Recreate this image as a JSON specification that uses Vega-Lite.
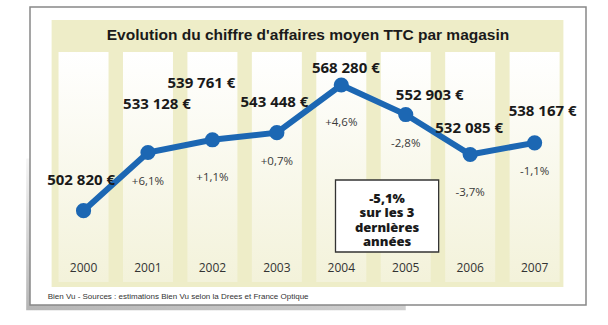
{
  "$schema": "https://vega.github.io/schema/vega-lite/v6.json",
  "width": 566,
  "height": 298,
  "autosize": "none",
  "padding": {"left": 25, "top": 7, "right": 17, "bottom": 20},
  "background": "white",
  "config": {"view": {"stroke": null}},
  "title": {
    "text": "Evolution du chiffre d'affaires moyen TTC par magasin",
    "font": "Liberation Sans",
    "fontWeight": "bold",
    "fontSize": 15.5,
    "color": "#1a1a1a",
    "anchor": "middle",
    "frame": "group",
    "offset": -49,
    "baseline": "alphabetic",
    "zindex": 1
  },
  "data": {
    "values": [
      {"year": 2000, "value": 502820, "label": "502 820 €", "pct": null},
      {"year": 2001, "value": 533128, "label": "533 128 €", "pct": "+6,1%"},
      {"year": 2002, "value": 539761, "label": "539 761 €", "pct": "+1,1%"},
      {"year": 2003, "value": 543448, "label": "543 448 €", "pct": "+0,7%"},
      {"year": 2004, "value": 568280, "label": "568 280 €", "pct": "+4,6%"},
      {"year": 2005, "value": 552903, "label": "552 903 €", "pct": "-2,8%"},
      {"year": 2006, "value": 532085, "label": "532 085 €", "pct": "-3,7%"},
      {"year": 2007, "value": 538167, "label": "538 167 €", "pct": "-1,1%"}
    ]
  },
  "layer": [
    {
      "data": {"values": [{}]},
      "mark": {"type": "rect", "fill": {"gradient": "linear", "x1": 0, "y1": 1, "x2": 0.4, "y2": 0, "stops": [{"offset": 0, "color": "#b5b5b5"}, {"offset": 1, "color": "#ffffff"}]}},
      "encoding": {
        "x": {"datum": 1999.11, "type": "quantitative", "scale": {"domain": [1999.1692, 2007.7973], "nice": false, "zero": false}, "axis": null},
        "x2": {"datum": 2005.0},
        "y": {"datum": 530000, "type": "quantitative", "scale": {"domain": [453709, 608907], "nice": false, "zero": false}, "axis": null},
        "y2": {"datum": 451000}
      }
    },
    {
      "data": {"values": [{}]},
      "mark": {"type": "rect", "fill": "white", "stroke": "#888888", "strokeWidth": 1.5},
      "encoding": {
        "x": {"datum": 1999.1692, "type": "quantitative", "axis": null},
        "x2": {"datum": 2007.7973},
        "y": {"datum": 608907, "type": "quantitative", "axis": null},
        "y2": {"datum": 453709}
      }
    },
    {
      "data": {"values": [{}]},
      "mark": {"type": "rect", "fill": "#EEEDC8"},
      "encoding": {
        "x": {"datum": 1999.5046, "type": "quantitative", "axis": null},
        "x2": {"datum": 2007.4466},
        "y": {"datum": 602136, "type": "quantitative", "axis": null},
        "y2": {"datum": 463083}
      }
    },
    {
      "mark": {"type": "bar", "width": 50, "fill": {"gradient": "linear", "x1": 0, "y1": 0, "x2": 0, "y2": 1, "stops": [{"offset": 0, "color": "#ffffff"}, {"offset": 1, "color": "#F3F2DA"}]}},
      "encoding": {
        "x": {"field": "year", "type": "quantitative", "axis": null},
        "y": {"datum": 585471, "type": "quantitative", "axis": null},
        "y2": {"datum": 465687}
      }
    },
    {
      "mark": {"type": "text", "font": "Open Sans", "fontSize": 12, "color": "#333333", "baseline": "middle", "align": "center"},
      "encoding": {
        "x": {"field": "year", "type": "quantitative", "axis": null},
        "y": {"datum": 472978, "type": "quantitative", "axis": null},
        "text": {"field": "year", "type": "quantitative", "format": "d"}
      }
    },
    {
      "data": {"values": [{}]},
      "mark": {"type": "text", "text": "Bien Vu - Sources : estimations Bien Vu selon la Drees et France Optique", "font": "Liberation Sans", "fontSize": 8, "color": "#333333", "baseline": "middle", "align": "left"},
      "encoding": {
        "x": {"datum": 1999.4436, "type": "quantitative", "axis": null},
        "y": {"datum": 457875, "type": "quantitative", "axis": null}
      }
    },
    {
      "mark": {"type": "line", "color": "#1C67B3", "strokeWidth": 6},
      "encoding": {
        "x": {"field": "year", "type": "quantitative", "axis": null},
        "y": {"field": "value", "type": "quantitative", "axis": null}
      }
    },
    {
      "mark": {"type": "circle", "color": "#1C67B3", "size": 230, "opacity": 1},
      "encoding": {
        "x": {"field": "year", "type": "quantitative", "axis": null},
        "y": {"field": "value", "type": "quantitative", "axis": null}
      }
    },
    {
      "transform": [{"filter": {"field": "year", "oneOf": [2000, 2003]}}],
      "mark": {"type": "text", "font": "Open Sans", "fontWeight": "bold", "fontSize": 15, "color": "#1a1a1a", "dx": -2.4, "dy": -31, "baseline": "middle"},
      "encoding": {
        "x": {"field": "year", "type": "quantitative", "axis": null},
        "y": {"field": "value", "type": "quantitative", "axis": null},
        "text": {"field": "label"}
      }
    },
    {
      "transform": [{"filter": {"field": "year", "equal": 2001}}],
      "mark": {"type": "text", "font": "Open Sans", "fontWeight": "bold", "fontSize": 15, "color": "#1a1a1a", "dx": 9, "dy": -48.5, "baseline": "middle"},
      "encoding": {
        "x": {"field": "year", "type": "quantitative", "axis": null},
        "y": {"field": "value", "type": "quantitative", "axis": null},
        "text": {"field": "label"}
      }
    },
    {
      "transform": [{"filter": {"field": "year", "equal": 2002}}],
      "mark": {"type": "text", "font": "Open Sans", "fontWeight": "bold", "fontSize": 15, "color": "#1a1a1a", "dx": -11, "dy": -57, "baseline": "middle"},
      "encoding": {
        "x": {"field": "year", "type": "quantitative", "axis": null},
        "y": {"field": "value", "type": "quantitative", "axis": null},
        "text": {"field": "label"}
      }
    },
    {
      "transform": [{"filter": {"field": "year", "equal": 2004}}],
      "mark": {"type": "text", "font": "Open Sans", "fontWeight": "bold", "fontSize": 15, "color": "#1a1a1a", "dx": 4.5, "dy": -17.5, "baseline": "middle"},
      "encoding": {
        "x": {"field": "year", "type": "quantitative", "axis": null},
        "y": {"field": "value", "type": "quantitative", "axis": null},
        "text": {"field": "label"}
      }
    },
    {
      "transform": [{"filter": {"field": "year", "equal": 2005}}],
      "mark": {"type": "text", "font": "Open Sans", "fontWeight": "bold", "fontSize": 15, "color": "#1a1a1a", "dx": 24, "dy": -19.5, "baseline": "middle"},
      "encoding": {
        "x": {"field": "year", "type": "quantitative", "axis": null},
        "y": {"field": "value", "type": "quantitative", "axis": null},
        "text": {"field": "label"}
      }
    },
    {
      "transform": [{"filter": {"field": "year", "equal": 2006}}],
      "mark": {"type": "text", "font": "Open Sans", "fontWeight": "bold", "fontSize": 15, "color": "#1a1a1a", "dx": -1, "dy": -26.5, "baseline": "middle"},
      "encoding": {
        "x": {"field": "year", "type": "quantitative", "axis": null},
        "y": {"field": "value", "type": "quantitative", "axis": null},
        "text": {"field": "label"}
      }
    },
    {
      "transform": [{"filter": {"field": "year", "equal": 2007}}],
      "mark": {"type": "text", "font": "Open Sans", "fontWeight": "bold", "fontSize": 15, "color": "#1a1a1a", "dx": 8, "dy": -31.5, "baseline": "middle"},
      "encoding": {
        "x": {"field": "year", "type": "quantitative", "axis": null},
        "y": {"field": "value", "type": "quantitative", "axis": null},
        "text": {"field": "label"}
      }
    },
    {
      "transform": [{"filter": {"field": "year", "oneOf": [2001, 2003, 2005, 2007]}}],
      "mark": {"type": "text", "font": "Open Sans", "fontSize": 11.5, "color": "#3a3a3a", "dy": 29, "baseline": "middle"},
      "encoding": {
        "x": {"field": "year", "type": "quantitative", "axis": null},
        "y": {"field": "value", "type": "quantitative", "axis": null},
        "text": {"field": "pct"}
      }
    },
    {
      "transform": [{"filter": {"field": "year", "oneOf": [2002, 2004, 2006]}}],
      "mark": {"type": "text", "font": "Open Sans", "fontSize": 11.5, "color": "#3a3a3a", "dy": 38, "baseline": "middle"},
      "encoding": {
        "x": {"field": "year", "type": "quantitative", "axis": null},
        "y": {"field": "value", "type": "quantitative", "axis": null},
        "text": {"field": "pct"}
      }
    },
    {
      "data": {"values": [{}]},
      "mark": {"type": "rect", "fill": "white", "stroke": "#333333", "strokeWidth": 1.3},
      "encoding": {
        "x": {"datum": 2003.910, "type": "quantitative", "axis": null},
        "x2": {"datum": 2005.511},
        "y": {"datum": 518809, "type": "quantitative", "axis": null},
        "y2": {"datum": 481311}
      }
    },
    {
      "data": {"values": [{}]},
      "mark": {"type": "text", "text": ["-5,1%", "sur les 3", "dernières", "années"], "font": "Open Sans", "fontWeight": 800, "fontSize": 13, "lineHeight": 14.5, "color": "#1a1a1a", "align": "center", "baseline": "middle"},
      "encoding": {
        "x": {"datum": 2004.71, "type": "quantitative", "axis": null},
        "y": {"datum": 508958, "type": "quantitative", "axis": null}
      }
    }
  ]
}
